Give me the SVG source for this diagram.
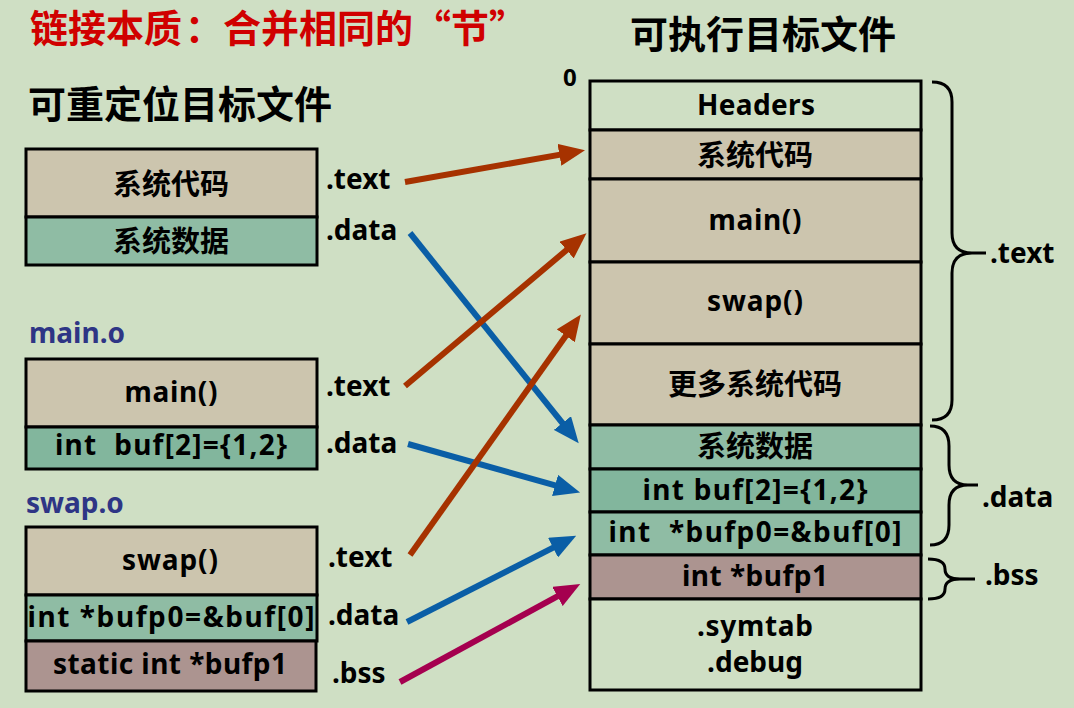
<svg xmlns="http://www.w3.org/2000/svg" width="1074" height="708" viewBox="0 0 1074 708">
<defs>
<style>
.t{font-family:"Noto Sans","Noto Sans CJK SC",sans-serif;font-weight:bold;font-size:28px;fill:#000}
.c{text-anchor:middle}
.cjk{font-family:"Noto Sans CJK SC",sans-serif;font-weight:bold}
.box{stroke:#000;stroke-width:3}
.tan{fill:#CCC5AE}
.grn{fill:#8FBCA4}
.grn2{fill:#82B69D}
.bss{fill:#AC9490}
.bg{fill:#CFDFC4}
.arr{stroke-width:6;fill:none}
.brace{stroke:#000;stroke-width:3;fill:none}
.obj{fill:#2E3585}
</style>
<marker id="hr" markerUnits="userSpaceOnUse" markerWidth="26" markerHeight="22" viewBox="0 0 26 22" refX="14" refY="11" orient="auto"><path d="M0,0 L26,11 L0,22 z" fill="#A63200"/></marker>
<marker id="hb" markerUnits="userSpaceOnUse" markerWidth="26" markerHeight="22" viewBox="0 0 26 22" refX="14" refY="11" orient="auto"><path d="M0,0 L26,11 L0,22 z" fill="#0A5EA6"/></marker>
<marker id="hm" markerUnits="userSpaceOnUse" markerWidth="26" markerHeight="22" viewBox="0 0 26 22" refX="14" refY="11" orient="auto"><path d="M0,0 L26,11 L0,22 z" fill="#A5004F"/></marker>
</defs>
<rect width="1074" height="708" fill="#CFDFC4"/>

<g id="titles">
<text y="42" class="t cjk" style="font-size:38px;fill:#D00000"><tspan x="30">链接本质</tspan><tspan x="185">：</tspan><tspan x="223">合并相同的</tspan><tspan x="413">“</tspan><tspan x="451">节</tspan><tspan x="489">”</tspan></text>
<text x="28" y="118" class="t cjk" style="font-size:38px">可重定位目标文件</text>
<text x="630" y="48" class="t cjk" style="font-size:38px">可执行目标文件</text>
</g>

<g id="sys-obj">
<rect class="box tan" x="26" y="149" width="291" height="68"/>
<rect class="box grn" x="26" y="217" width="291" height="48"/>
<text x="171" y="195" class="t c" style="font-size:29px">系统代码</text>
<text x="171" y="252" class="t c" style="font-size:29px">系统数据</text>
<text x="326" y="189" class="t">.text</text>
<text x="326" y="240" class="t">.data</text>
</g>

<g id="main-obj">
<text x="29" y="343" class="t obj">main.o</text>
<rect class="box tan" x="26" y="359" width="291" height="68"/>
<rect class="box grn2" x="26" y="427" width="291" height="42"/>
<text x="171" y="402" class="t c" textLength="93">main()</text>
<text x="171" y="455" class="t c" xml:space="preserve" textLength="232">int  buf[2]={1,2}</text>
<text x="326" y="396" class="t">.text</text>
<text x="326" y="453" class="t">.data</text>
</g>

<g id="swap-obj">
<text x="26" y="513" class="t obj">swap.o</text>
<rect class="box tan" x="26" y="527" width="291" height="68"/>
<rect class="box grn" x="26" y="595" width="291" height="46"/>
<rect class="box bss" x="26" y="641" width="290" height="50"/>
<text x="170" y="570" class="t c" textLength="96">swap()</text>
<text x="171" y="627" class="t c" textLength="287">int *bufp0=&amp;buf[0]</text>
<text x="170" y="674" class="t c" textLength="234">static int *bufp1</text>
<text x="328" y="567" class="t">.text</text>
<text x="328" y="625" class="t">.data</text>
<text x="332" y="683" class="t">.bss</text>
</g>

<g id="exe">
<text x="563" y="86" class="t" style="font-size:24px">0</text>
<rect class="box bg" x="590" y="81" width="331" height="49"/>
<rect class="box tan" x="590" y="130" width="331" height="49"/>
<rect class="box tan" x="590" y="179" width="331" height="83"/>
<rect class="box tan" x="590" y="262" width="331" height="82"/>
<rect class="box tan" x="590" y="344" width="331" height="81"/>
<rect class="box grn" x="590" y="425" width="331" height="44"/>
<rect class="box grn2" x="590" y="469" width="331" height="43"/>
<rect class="box grn" x="590" y="512" width="331" height="43"/>
<rect class="box bss" x="590" y="555" width="331" height="44"/>
<rect class="box bg" x="590" y="599" width="331" height="91"/>
<text x="756" y="115" class="t c" textLength="118">Headers</text>
<text x="755" y="166" class="t c" style="font-size:29px">系统代码</text>
<text x="755" y="230" class="t c" textLength="93">main()</text>
<text x="755" y="311" class="t c" textLength="96">swap()</text>
<text x="755" y="395" class="t c" style="font-size:29px">更多系统代码</text>
<text x="755" y="457" class="t c" style="font-size:29px">系统数据</text>
<text x="755" y="500" class="t c" textLength="225">int buf[2]={1,2}</text>
<text x="755" y="542" class="t c" xml:space="preserve" textLength="293">int  *bufp0=&amp;buf[0]</text>
<text x="755" y="586" class="t c" textLength="146">int *bufp1</text>
<text x="755" y="636" class="t c" textLength="116">.symtab</text>
<text x="755" y="672" class="t c">.debug</text>
</g>

<g id="braces">
<path class="brace" d="M932,82 Q952,82 952,102 L952,233 Q952,253 972,253 Q952,253 952,273 L952,400 Q952,420 932,420 M970,253 L986,253"/>
<path class="brace" d="M930,426 Q949,426 949,446 L949,465 Q949,485 968,485 Q949,485 949,505 L949,525 Q949,545 930,545 M966,485 L978,485"/>
<path class="brace" d="M928,559 Q945,559 945,569 Q945,579 960,579 Q945,579 945,589 Q945,599 928,599 M958,579 L975,579"/>
<text x="990" y="263" class="t">.text</text>
<text x="982" y="507" class="t">.data</text>
<text x="985" y="585" class="t">.bss</text>
</g>

<g id="connectors">
<line class="arr" stroke="#A63200" x1="405" y1="182" x2="573.2" y2="152.4" marker-end="url(#hr)"/>
<line class="arr" stroke="#0A5EA6" x1="410" y1="233" x2="571.2" y2="434" marker-end="url(#hb)"/>
<line class="arr" stroke="#A63200" x1="405" y1="386" x2="577.3" y2="241" marker-end="url(#hr)"/>
<line class="arr" stroke="#0A5EA6" x1="408" y1="444" x2="568.5" y2="489.2" marker-end="url(#hb)"/>
<line class="arr" stroke="#A63200" x1="410" y1="555" x2="573.9" y2="324.4" marker-end="url(#hr)"/>
<line class="arr" stroke="#0A5EA6" x1="407" y1="622" x2="565.5" y2="541.3" marker-end="url(#hb)"/>
<line class="arr" stroke="#A5004F" x1="400" y1="682" x2="569.7" y2="589.7" marker-end="url(#hm)"/>
</g>
</svg>
